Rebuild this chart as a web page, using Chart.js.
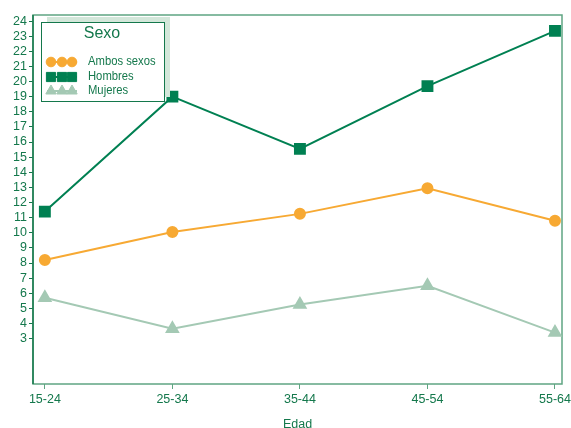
<!DOCTYPE html>
<html>
<head>
<meta charset="utf-8">
<script src="https://cdn.jsdelivr.net/npm/chart.js@4"></script>
<style>
  body { margin: 0; background: #fff; }
  #wrap { width: 571px; height: 428px; }
</style>
</head>
<body>
<div id="wrap"><canvas id="myChart" width="571" height="428"></canvas></div>
<script>
// values
const edades = ['15-24', '25-34', '35-44', '45-54', '55-64'];
const ambosSexos = [8.2, 10.05, 11.25, 12.95, 10.8];
const hombres = [11.4, 19.0, 15.55, 19.7, 23.35];
const mujeres = [5.7, 3.65, 5.25, 6.5, 3.4];
const yTicks = [3, 4, 5, 6, 7, 8, 9, 10, 11, 12, 13, 14, 15, 16, 17, 18, 19, 20, 21, 22, 23, 24];

const verde = '#14784c';
const verdeBorde = '#5fa582';
const fuente = '"Liberation Sans", Arial, sans-serif';

function toPoints(arr) {
  return arr.map((v, i) => ({ x: i, y: v }));
}

// legend box drawn by hand, with the little shadow behind it
const legendBox = {
  id: 'legendBox',
  afterDraw(chart) {
    const ctx = chart.ctx;
    ctx.save();
    ctx.fillStyle = '#d3e7da';
    ctx.fillRect(47, 17, 123, 80);
    ctx.fillStyle = '#fff';
    ctx.fillRect(41, 22, 123, 79);
    ctx.strokeStyle = verde;
    ctx.lineWidth = 1;
    ctx.strokeRect(41.5, 22.5, 123, 79);

    ctx.fillStyle = verde;
    ctx.font = '16px ' + fuente;
    ctx.textAlign = 'center';
    ctx.textBaseline = 'middle';
    ctx.fillText('Sexo', 102, 34);

    const rows = [62, 77, 91];
    const sizes = [4.8, 6.5, 6];
    chart.data.datasets.forEach((ds, i) => {
      const y = rows[i];
      ctx.strokeStyle = ds.borderColor;
      ctx.lineWidth = 2;
      ctx.beginPath();
      ctx.moveTo(47, y);
      ctx.lineTo(77, y);
      ctx.stroke();
      [51, 62, 72].forEach(x => {
        ctx.fillStyle = ds.pointBackgroundColor;
        ctx.strokeStyle = ds.pointBackgroundColor;
        ctx.lineWidth = 1;
        Chart.helpers.drawPoint(ctx, { pointStyle: ds.pointStyle, radius: sizes[i], rotation: 0, borderWidth: 1 }, x, y);
      });
      ctx.save();
      ctx.translate(88, y);
      ctx.scale(0.9, 1);
      ctx.fillStyle = verde;
      ctx.font = '12.5px ' + fuente;
      ctx.textAlign = 'left';
      ctx.fillText(ds.label, 0, 0);
      ctx.restore();
    });
    ctx.restore();
  }
};

// frame around the plot area
const frame = {
  id: 'frame',
  beforeDatasetsDraw(chart) {
    const a = chart.chartArea;
    const ctx = chart.ctx;
    ctx.save();
    ctx.strokeStyle = verdeBorde;
    ctx.lineWidth = 1.5;
    ctx.strokeRect(a.left, a.top, a.right - a.left, a.bottom - a.top);
    ctx.strokeStyle = verde;
    ctx.beginPath();
    ctx.moveTo(a.left, a.top);
    ctx.lineTo(a.left, a.bottom);
    ctx.stroke();
    ctx.restore();
  }
};

// x labels drawn here so the last one can run off the edge like the original
const xLabels = {
  id: 'xLabels',
  afterDraw(chart) {
    const ctx = chart.ctx;
    const xs = chart.scales.x;
    const bottom = chart.chartArea.bottom;
    ctx.save();
    ctx.fillStyle = verde;
    ctx.font = '12.5px ' + fuente;
    ctx.textAlign = 'center';
    ctx.textBaseline = 'middle';
    edades.forEach((e, i) => {
      ctx.fillText(e, xs.getPixelForValue(i), bottom + 16);
    });
    ctx.fillText('Edad', (chart.chartArea.left + chart.chartArea.right) / 2, bottom + 41);
    ctx.restore();
  }
};

const ctx = document.getElementById('myChart').getContext('2d');
const myChart = new Chart(ctx, {
  type: 'line',
  data: {
    datasets: [{
      label: 'Ambos sexos',
      data: toPoints(ambosSexos),
      borderColor: '#f7a933',
      pointBackgroundColor: '#f7a933',
      pointBorderColor: '#f7a933',
      pointStyle: 'circle',
      pointRadius: 5,
      borderWidth: 2
    }, {
      label: 'Hombres',
      data: toPoints(hombres),
      borderColor: '#008052',
      pointBackgroundColor: '#008052',
      pointBorderColor: '#008052',
      pointStyle: 'rect',
      pointRadius: 7,
      borderWidth: 2
    }, {
      label: 'Mujeres',
      data: toPoints(mujeres),
      borderColor: '#a4c9b4',
      pointBackgroundColor: '#a4c9b4',
      pointBorderColor: '#a4c9b4',
      pointStyle: 'triangle',
      pointRadius: 6.5,
      borderWidth: 2
    }]
  },
  options: {
    responsive: false,
    animation: false,
    layout: { padding: { top: 15, right: 5, left: 0, bottom: 0 } },
    plugins: {
      legend: { display: false },
      tooltip: { enabled: false }
    },
    scales: {
      x: {
        type: 'linear',
        min: -0.093,
        max: 4.055,
        afterBuildTicks: s => { s.ticks = edades.map((e, i) => ({ value: i })); },
        afterFit: s => { s.height = 44; },
        grid: { drawOnChartArea: false, tickLength: 5, color: verdeBorde },
        border: { display: false },
        ticks: { display: false }
      },
      y: {
        min: 0,
        max: 24.4,
        afterBuildTicks: s => { s.ticks = yTicks.map(v => ({ value: v })); },
        afterFit: s => { s.width = 33; },
        grid: { drawOnChartArea: false, tickLength: 4, color: verde },
        border: { display: false },
        ticks: {
          color: verde,
          font: { family: fuente, size: 12.5 },
          padding: 2,
          autoSkip: false
        }
      }
    }
  },
  plugins: [frame, legendBox, xLabels]
});
</script>
</body>
</html>
